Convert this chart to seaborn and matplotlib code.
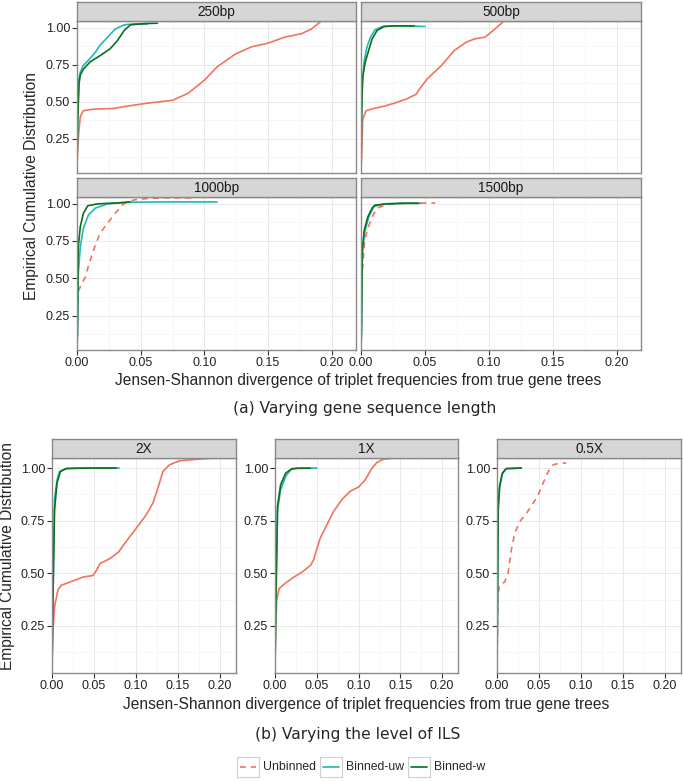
import numpy as np
import pandas as pd
import matplotlib
matplotlib.use("Agg")
import matplotlib.pyplot as plt
import seaborn as sns

W, H = 683, 781

# ---- data (x = JS divergence, y = cumulative fraction)
# (a) gene sequence length
unb_250_x = [0.0, 0.0003, 0.0013, 0.0026, 0.005, 0.013, 0.029, 0.039, 0.055, 0.075, 0.087, 0.10, 0.11, 0.124, 0.137, 0.15, 0.163, 0.176, 0.184, 0.192]
unb_250_y = [0.05, 0.15, 0.29, 0.40, 0.44, 0.45, 0.455, 0.47, 0.49, 0.51, 0.556, 0.645, 0.735, 0.82, 0.87, 0.895, 0.935, 0.958, 0.99, 1.045]
uw_250_x = [0.0, 0.0005, 0.0013, 0.0026, 0.005, 0.009, 0.0145, 0.018, 0.024, 0.030, 0.037, 0.045, 0.055]
uw_250_y = [0.05, 0.40, 0.645, 0.70, 0.745, 0.78, 0.835, 0.88, 0.935, 0.99, 1.018, 1.025, 1.022]
w_250_x = [0.0, 0.0006, 0.0016, 0.0026, 0.005, 0.0105, 0.018, 0.026, 0.0316, 0.037, 0.042, 0.053, 0.063]
w_250_y = [0.05, 0.38, 0.62, 0.68, 0.72, 0.77, 0.81, 0.857, 0.91, 0.98, 1.018, 1.027, 1.029]

unb_500_x = [0.0, 0.0005, 0.0013, 0.004, 0.010, 0.018, 0.026, 0.036, 0.043, 0.047, 0.052, 0.063, 0.073, 0.082, 0.089, 0.097, 0.102, 0.107, 0.112]
unb_500_y = [0.05, 0.13, 0.38, 0.44, 0.455, 0.47, 0.49, 0.52, 0.55, 0.60, 0.656, 0.745, 0.846, 0.90, 0.924, 0.935, 0.97, 1.007, 1.045]
uw_500_x = [0.0, 0.0003, 0.001, 0.0026, 0.0047, 0.0074, 0.011, 0.0166, 0.026, 0.036, 0.050]
uw_500_y = [0.05, 0.35, 0.62, 0.78, 0.87, 0.935, 0.985, 1.007, 1.011, 1.011, 1.007]
w_500_x = [0.0, 0.0004, 0.0013, 0.0034, 0.006, 0.0087, 0.0126, 0.018, 0.026, 0.0416]
w_500_y = [0.05, 0.38, 0.667, 0.77, 0.846, 0.924, 0.98, 1.007, 1.011, 1.011]

unb_1000_x = [0.0, 0.0003, 0.0006, 0.0013, 0.004, 0.0066, 0.0092, 0.013, 0.018, 0.024, 0.030, 0.037, 0.045, 0.058, 0.071, 0.091]
unb_1000_y = [0.05, 0.11, 0.355, 0.42, 0.467, 0.51, 0.59, 0.69, 0.80, 0.87, 0.935, 1.002, 1.025, 1.036, 1.038, 1.038]
uw_1000_x = [0.0, 0.0003, 0.001, 0.0026, 0.005, 0.009, 0.0145, 0.024, 0.039, 0.071, 0.110]
uw_1000_y = [0.05, 0.12, 0.53, 0.71, 0.835, 0.924, 0.97, 0.998, 1.009, 1.011, 1.011]
w_1000_x = [0.0, 0.0003, 0.001, 0.0026, 0.005, 0.0084, 0.0158, 0.026, 0.037, 0.0416]
w_1000_y = [0.05, 0.12, 0.71, 0.846, 0.935, 0.985, 0.998, 1.002, 1.007, 1.011]

unb_1500_x = [0.0, 0.0003, 0.001, 0.0026, 0.0047, 0.0087, 0.0126, 0.0205, 0.031, 0.044, 0.058]
unb_1500_y = [0.05, 0.12, 0.53, 0.73, 0.82, 0.91, 0.97, 0.993, 1.002, 1.004, 1.004]
uw_1500_x = [0.0, 0.0003, 0.001, 0.0026, 0.006, 0.010, 0.018, 0.031, 0.047]
uw_1500_y = [0.05, 0.12, 0.645, 0.80, 0.91, 0.98, 0.998, 1.002, 1.002]
w_1500_x = [0.0, 0.0003, 0.001, 0.0026, 0.0053, 0.0087, 0.011, 0.0205, 0.036, 0.045]
w_1500_y = [0.05, 0.12, 0.69, 0.824, 0.91, 0.97, 0.99, 0.998, 1.002, 1.002]

# (b) level of ILS
unb_2x_x = [0.0, 0.0012, 0.003, 0.007, 0.011, 0.021, 0.037, 0.049, 0.053, 0.057, 0.069, 0.079, 0.088, 0.10, 0.112, 0.120, 0.126, 0.132, 0.140, 0.152, 0.176, 0.192]
unb_2x_y = [0.05, 0.23, 0.34, 0.42, 0.443, 0.458, 0.482, 0.49, 0.514, 0.546, 0.57, 0.60, 0.65, 0.713, 0.777, 0.833, 0.904, 0.984, 1.016, 1.035, 1.043, 1.048]
uw_2x_x = [0.0, 0.0008, 0.003, 0.006, 0.009, 0.017, 0.037, 0.080]
uw_2x_y = [0.05, 0.30, 0.85, 0.944, 0.984, 0.998, 1.0, 1.0]
w_2x_x = [0.0, 0.0008, 0.003, 0.006, 0.010, 0.017, 0.041, 0.0766]
w_2x_y = [0.05, 0.30, 0.80, 0.93, 0.984, 0.998, 1.0, 1.0]

unb_1x_x = [0.0, 0.0008, 0.002, 0.0048, 0.0127, 0.0226, 0.0325, 0.0425, 0.046, 0.0496, 0.054, 0.062, 0.070, 0.080, 0.090, 0.100, 0.108, 0.116, 0.122, 0.130, 0.138]
unb_1x_y = [0.05, 0.23, 0.37, 0.427, 0.454, 0.482, 0.506, 0.538, 0.562, 0.61, 0.666, 0.73, 0.793, 0.85, 0.89, 0.91, 0.944, 1.0, 1.027, 1.043, 1.045]
uw_1x_x = [0.0, 0.0008, 0.003, 0.0067, 0.0127, 0.0187, 0.0266, 0.050]
uw_1x_y = [0.05, 0.30, 0.80, 0.896, 0.96, 0.992, 1.0, 1.0]
w_1x_x = [0.0, 0.0008, 0.003, 0.0067, 0.0127, 0.0206, 0.042]
w_1x_y = [0.05, 0.30, 0.817, 0.92, 0.976, 0.998, 1.0]

unb_05x_x = [0.0, 0.0005, 0.0012, 0.003, 0.009, 0.013, 0.017, 0.021, 0.027, 0.035, 0.043, 0.049, 0.055, 0.061, 0.067, 0.075, 0.0825]
unb_05x_y = [0.05, 0.20, 0.40, 0.443, 0.458, 0.498, 0.61, 0.69, 0.745, 0.785, 0.833, 0.873, 0.93, 0.984, 1.016, 1.024, 1.024]
uw_05x_x = [0.0, 0.0005, 0.0015, 0.003, 0.0063, 0.011, 0.029]
uw_05x_y = [0.05, 0.30, 0.80, 0.905, 0.972, 0.997, 1.0]
w_05x_x = [0.0, 0.0005, 0.0015, 0.003, 0.0063, 0.011, 0.029]
w_05x_y = [0.05, 0.30, 0.817, 0.912, 0.976, 0.998, 1.0]

methods = ["Unbinned", "Binned-uw", "Binned-w"]
colors = {"Unbinned": "#F2735E", "Binned-uw": "#24B7B5", "Binned-w": "#0E6E1E"}

series = {
    "250bp": [(unb_250_x, unb_250_y), (uw_250_x, uw_250_y), (w_250_x, w_250_y)],
    "500bp": [(unb_500_x, unb_500_y), (uw_500_x, uw_500_y), (w_500_x, w_500_y)],
    "1000bp": [(unb_1000_x, unb_1000_y), (uw_1000_x, uw_1000_y), (w_1000_x, w_1000_y)],
    "1500bp": [(unb_1500_x, unb_1500_y), (uw_1500_x, uw_1500_y), (w_1500_x, w_1500_y)],
    "2X": [(unb_2x_x, unb_2x_y), (uw_2x_x, uw_2x_y), (w_2x_x, w_2x_y)],
    "1X": [(unb_1x_x, unb_1x_y), (uw_1x_x, uw_1x_y), (w_1x_x, w_1x_y)],
    "0.5X": [(unb_05x_x, unb_05x_y), (uw_05x_x, uw_05x_y), (w_05x_x, w_05x_y)],
}
# panels where the unbinned curve is drawn dashed in the original
dashed_panels = ["1000bp", "1500bp", "0.5X"]

rows = []
for panel, lst in series.items():
    for m, (xs, ys) in zip(methods, lst):
        for i, (a, b) in enumerate(zip(xs, ys)):
            rows.append((panel, m, i, a, b))
df = pd.DataFrame(rows, columns=["panel", "method", "order", "x", "y"])

sns.set_theme(style="white")
plt.rcParams["font.family"] = ["Liberation Sans", "DejaVu Sans"]

fig = plt.figure(figsize=(W / 100, H / 100), dpi=100)


def px_axes(x0, y0, x1, y1):
    return fig.add_axes([x0 / W, 1 - y1 / H, (x1 - x0) / W, (y1 - y0) / H])


def draw_panel(panel, box, ylim, show_x, show_y):
    x0, y0, x1, y1 = box
    ax = px_axes(x0, y0, x1, y1)
    ax.set_facecolor("white")
    sub = df[df.panel == panel]
    for m in methods:
        ls = "-"
        if m == "Unbinned" and panel in dashed_panels:
            ls = (0, (3.5, 3))
        sns.lineplot(data=sub[sub.method == m], x="x", y="y", sort=False,
                     estimator=None, color=colors[m], linewidth=1.2,
                     linestyle=ls, ax=ax)
    ax.set_xlim(0, 0.219)
    ax.set_ylim(*ylim)
    ax.set_xticks([0, 0.05, 0.10, 0.15, 0.20])
    ax.set_xticks([0.025, 0.075, 0.125, 0.175], minor=True)
    ax.set_yticks([0.25, 0.50, 0.75, 1.00])
    ax.set_yticks([0.125, 0.375, 0.625, 0.875], minor=True)
    ax.grid(True, which="major", color="#e6e6e6", lw=0.6)
    ax.grid(True, which="minor", color="#f3f3f3", lw=0.5)
    ax.set_axisbelow(True)
    ax.set_xlabel("")
    ax.set_ylabel("")
    ax.tick_params(which="major", length=3.5, width=0.8, color="#333333",
                   labelsize=9, labelcolor="#222222", pad=1.5,
                   bottom=True, left=True)
    ax.tick_params(which="minor", length=0)
    if show_x:
        ax.set_xticklabels(["0.00", "0.05", "0.10", "0.15", "0.20"])
    else:
        ax.tick_params(axis="x", which="major", length=0, labelbottom=False)
    if show_y:
        ax.set_yticklabels(["0.25", "0.50", "0.75", "1.00"])
    else:
        ax.tick_params(axis="y", which="major", length=0, labelleft=False)
    for s in ax.spines.values():
        s.set_color("#8a8a8a")
        s.set_linewidth(1.0)
    # facet strip
    st = px_axes(x0, y0 - 19, x1, y0)
    st.set_facecolor("#d6d6d6")
    st.set_xticks([])
    st.set_yticks([])
    for s in st.spines.values():
        s.set_color("#8a8a8a")
        s.set_linewidth(1.0)
    st.text(0.5, 0.47, panel, ha="center", va="center", fontsize=9.8,
            color="#1a1a1a", transform=st.transAxes)
    return ax


ylim_a = (0.02, 1.044)
draw_panel("250bp", (77, 21, 356, 173), ylim_a, False, True)
draw_panel("500bp", (361, 21, 641, 173), ylim_a, False, False)
draw_panel("1000bp", (77, 197, 356, 350), ylim_a, True, True)
draw_panel("1500bp", (361, 197, 641, 350), ylim_a, True, False)

ylim_b = (0.026, 1.048)
draw_panel("2X", (52, 458, 236, 673), ylim_b, True, True)
draw_panel("1X", (275, 458, 458, 673), ylim_b, True, True)
draw_panel("0.5X", (497, 458, 681, 673), ylim_b, True, True)

ylab = "Empirical Cumulative Distribution"
xlab = "Jensen-Shannon divergence of triplet frequencies from true gene trees"
fig.text(32 / W, 1 - 186 / H, ylab, rotation=90, ha="center", va="center", fontsize=11.2)
fig.text(358 / W, 1 - 380 / H, xlab, ha="center", va="center", fontsize=11.2)
fig.text(8 / W, 1 - 556 / H, ylab, rotation=90, ha="center", va="center", fontsize=11.2)
fig.text(366 / W, 1 - 705 / H, xlab, ha="center", va="center", fontsize=11.2)

fig.text(365 / W, 1 - 408 / H, "(a) Varying gene sequence length", ha="center",
         va="center", fontsize=11.2, family=["DejaVu Sans"])
fig.text(358 / W, 1 - 735 / H, "(b) Varying the level of ILS", ha="center",
         va="center", fontsize=11.2, family=["DejaVu Sans"])

# legend with ggplot-like key boxes
key_boxes = [(237, 259), (320, 342), (408, 430)]
for m, (k0, k1) in zip(methods, key_boxes):
    kx = px_axes(k0, 757, k1, 777)
    kx.set_xlim(0, 1)
    kx.set_ylim(0, 1)
    kx.set_xticks([])
    kx.set_yticks([])
    for s in kx.spines.values():
        s.set_color("#d0d0d0")
        s.set_linewidth(0.8)
    ls = (0, (3.5, 3)) if m == "Unbinned" else "-"
    kx.plot([0.12, 0.88], [0.5, 0.5], color=colors[m], lw=1.2, linestyle=ls)
    fig.text((k1 + 4) / W, 1 - 767 / H, m, ha="left", va="center", fontsize=8.8)

fig.savefig("out.png", dpi=100)
